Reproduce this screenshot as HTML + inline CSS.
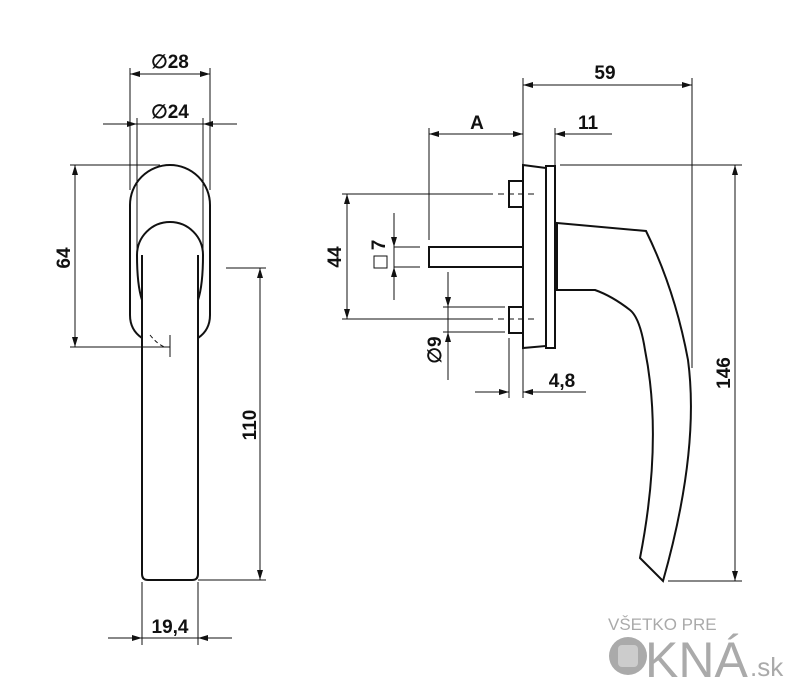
<!DOCTYPE html>
<html><head><meta charset="utf-8"><style>
html,body{margin:0;padding:0;background:#fff}
svg{display:block}
text{font-family:"Liberation Sans",sans-serif;font-weight:bold;fill:#111}
</style></head><body>
<svg width="800" height="685" viewBox="0 0 800 685" xmlns="http://www.w3.org/2000/svg">
<defs>
<marker id="a" viewBox="0 0 10 6" refX="10" refY="3" markerWidth="11" markerHeight="6" orient="auto-start-reverse" markerUnits="userSpaceOnUse"><path d="M0,0 L10,3 L0,6 Z" fill="#111"/></marker>
</defs>
<g stroke="#111" stroke-width="1" fill="none">
<line x1="130" y1="68" x2="130" y2="190"/><line x1="210" y1="68" x2="210" y2="190"/>
<line x1="130" y1="74" x2="210" y2="74" marker-start="url(#a)" marker-end="url(#a)"/>
<line x1="137" y1="118" x2="137" y2="250"/><line x1="203" y1="118" x2="203" y2="250"/>
<line x1="103" y1="124" x2="137" y2="124" marker-end="url(#a)"/>
<line x1="237" y1="124" x2="203" y2="124" marker-end="url(#a)"/>
<line x1="137" y1="124" x2="203" y2="124"/>
<line x1="70" y1="165" x2="160" y2="165"/>
<line x1="70" y1="347" x2="170" y2="347"/>
<line x1="75" y1="165" x2="75" y2="347" marker-start="url(#a)" marker-end="url(#a)"/>
<line x1="170" y1="335" x2="170" y2="357"/>
<path d="M150,335 Q158,345 165,347" stroke-dasharray="4,3"/>
<line x1="226" y1="268" x2="266" y2="268"/>
<line x1="198" y1="580" x2="266" y2="580"/>
<line x1="260" y1="268" x2="260" y2="580" marker-start="url(#a)" marker-end="url(#a)"/>
<line x1="142" y1="582" x2="142" y2="645"/><line x1="198" y1="582" x2="198" y2="645"/>
<line x1="108" y1="638" x2="142" y2="638" marker-end="url(#a)"/>
<line x1="232" y1="638" x2="198" y2="638" marker-end="url(#a)"/>
<line x1="142" y1="638" x2="198" y2="638"/>
</g>
<g stroke="#111" stroke-width="2" fill="none">
<path d="M142,338 Q130,330 130,315 L130,205 A40,40 0 0 1 210,205 L210,315 Q210,330 198,338"/>
<path d="M137,255 A33,33 0 0 1 203,255"/>
<path d="M137,255 Q137,285 142,300"/><path d="M203,255 Q203,285 198,300"/>
<path d="M142,255 L142,574 Q142,580 148,580 L192,580 Q198,580 198,574 L198,255"/>
</g>
<text x="170" y="68" font-size="19" text-anchor="middle">∅28</text>
<text x="170" y="118" font-size="19" text-anchor="middle">∅24</text>
<text transform="translate(70,258) rotate(-90)" font-size="19" text-anchor="middle">64</text>
<text transform="translate(256,425) rotate(-90)" font-size="19" text-anchor="middle">110</text>
<text x="170" y="633" font-size="19" text-anchor="middle">19,4</text>

<g stroke="#111" stroke-width="1" fill="none">
<line x1="523" y1="78" x2="523" y2="398"/>
<line x1="692" y1="78" x2="692" y2="368"/>
<line x1="523" y1="85" x2="692" y2="85" marker-start="url(#a)" marker-end="url(#a)"/>
<line x1="429" y1="128" x2="429" y2="240"/>
<line x1="429" y1="134" x2="523" y2="134" marker-start="url(#a)" marker-end="url(#a)"/>
<line x1="555" y1="128" x2="555" y2="165"/>
<line x1="612" y1="134" x2="555" y2="134" marker-end="url(#a)"/>
<line x1="560" y1="165" x2="742" y2="165"/>
<line x1="668" y1="581" x2="742" y2="581"/>
<line x1="735" y1="165" x2="735" y2="581" marker-start="url(#a)" marker-end="url(#a)"/>
<line x1="342" y1="194" x2="493" y2="194"/><line x1="498" y1="194" x2="535" y2="194" stroke-dasharray="6,4"/>
<line x1="342" y1="319" x2="493" y2="319"/><line x1="498" y1="319" x2="535" y2="319" stroke-dasharray="6,4"/>
<line x1="347" y1="194" x2="347" y2="319" marker-start="url(#a)" marker-end="url(#a)"/>
<line x1="394" y1="247" x2="420" y2="247"/><line x1="394" y1="267" x2="420" y2="267"/>
<line x1="394" y1="213" x2="394" y2="247" marker-end="url(#a)"/>
<line x1="394" y1="300" x2="394" y2="267" marker-end="url(#a)"/>
<line x1="394" y1="247" x2="394" y2="267"/>
<rect x="374" y="256" width="13" height="12"/>
<line x1="443" y1="307" x2="505" y2="307"/><line x1="443" y1="332" x2="505" y2="332"/>
<line x1="448" y1="272" x2="448" y2="307" marker-end="url(#a)"/>
<line x1="448" y1="380" x2="448" y2="332" marker-end="url(#a)"/>
<line x1="448" y1="307" x2="448" y2="332"/>
<line x1="509" y1="338" x2="509" y2="398"/>
<line x1="475" y1="392" x2="509" y2="392" marker-end="url(#a)"/>
<line x1="586" y1="392" x2="523" y2="392" marker-end="url(#a)"/>
</g>
<g stroke="#111" stroke-width="2" fill="none">
<path d="M523,165 L546,168 L546,346 L523,348 Z"/>
<rect x="546" y="166" width="9" height="182"/>
<rect x="509" y="181" width="14" height="26"/>
<rect x="509" y="307" width="14" height="26"/>
<rect x="429" y="247" width="94" height="20"/>
<rect x="555" y="232" width="2" height="51"/>
<path d="M557,223 L646,231 Q675,290 688,360 Q700,450 663,581 L640,558 Q663,440 645,350 Q640,318 630,310 Q612,296 595,290 L557,290 Z"/>
</g>
<text x="605" y="79" font-size="19" text-anchor="middle">59</text>
<text x="477" y="129" font-size="19" text-anchor="middle">A</text>
<text x="588" y="129" font-size="19" text-anchor="middle">11</text>
<text transform="translate(341,257) rotate(-90)" font-size="19" text-anchor="middle">44</text>
<text transform="translate(385,245) rotate(-90)" font-size="19" text-anchor="middle">7</text>
<text transform="translate(441,350) rotate(-90)" font-size="19" text-anchor="middle">∅9</text>
<text x="562" y="387" font-size="19" text-anchor="middle">4,8</text>
<text transform="translate(730,373) rotate(-90)" font-size="19" text-anchor="middle">146</text>

<text x="608" y="630" font-size="17" style="font-weight:normal;fill:#aaa">VŠETKO PRE</text>
<circle cx="628" cy="656" r="19" fill="#aaa"/>
<rect x="618" y="645" width="20" height="22" rx="4" fill="#ccc"/>
<text x="645" y="677" font-size="50" style="font-weight:normal;fill:#aaa">KNÁ</text>
<text x="750" y="676" font-size="26" style="font-weight:normal;fill:#aaa">.sk</text>
</svg>
</body></html>
